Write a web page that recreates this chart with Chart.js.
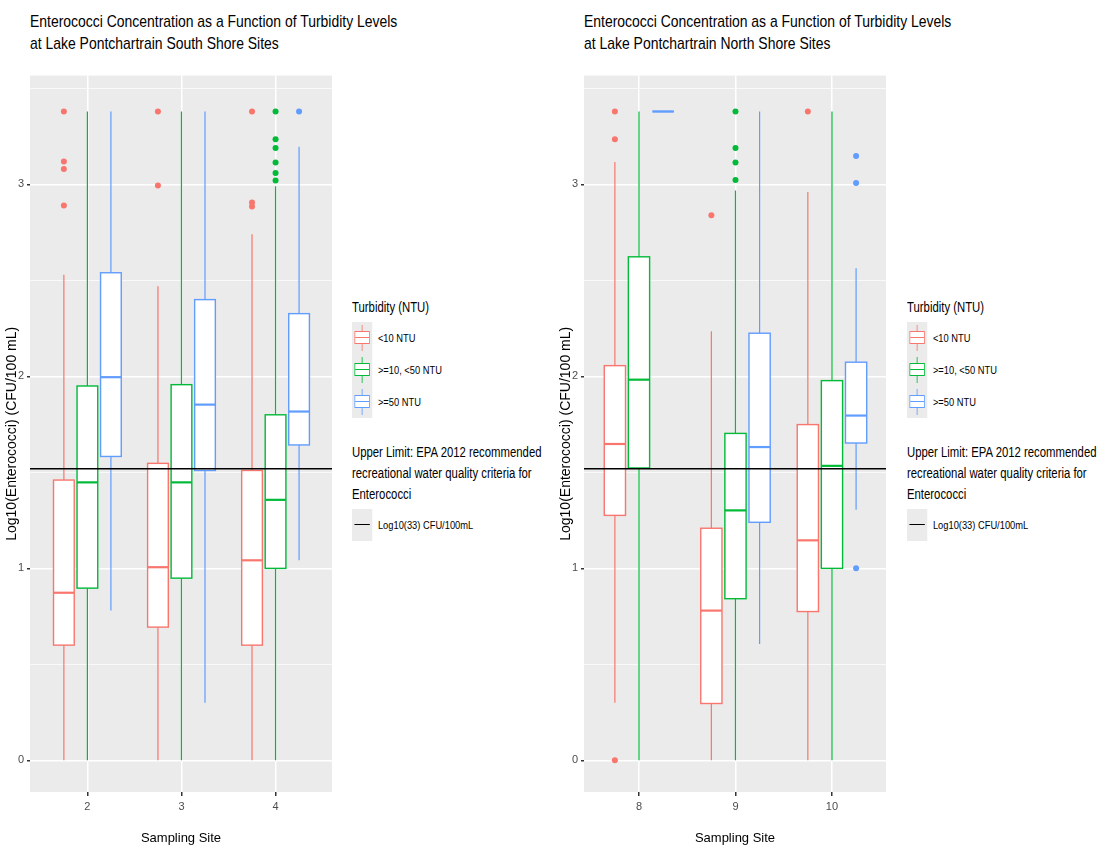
<!DOCTYPE html>
<html><head><meta charset="utf-8">
<script src="https://cdn.jsdelivr.net/npm/chart.js@4"></script>
<style>
body{margin:0;width:1108px;height:855px;background:#fff;position:relative;overflow:hidden;font-family:"Liberation Sans",Arial,sans-serif;}
.title{position:absolute;top:11px;font-size:17px;line-height:22px;color:#000;white-space:nowrap;transform:scaleX(0.82);transform-origin:0 0;}
.wrap{position:absolute;top:66px;width:336px;height:784px;}
.leg{position:absolute;font-size:13px;color:#000;white-space:nowrap;transform:scaleX(0.81);transform-origin:0 0;}
.lt{font-size:14px;line-height:21px;}
.row{display:flex;align-items:center;height:32px;font-size:11.5px;}
.key{width:25px;height:32px;background:#EBEBEB;position:relative;margin-right:7px;}
.bx{position:absolute;left:3px;top:9px;width:19px;height:13px;border:1.5px solid;background:#fff;box-sizing:border-box;}
.bx:after{content:"";position:absolute;left:0;right:0;top:4.5px;border-top:1.5px solid;border-color:inherit;}
.wh{position:absolute;left:12px;top:3px;height:26px;border-left:1px solid;}
</style></head><body>
<div class="title" style="left:30px">Enterococci Concentration as a Function of Turbidity Levels<br>at Lake Pontchartrain South Shore Sites</div>
<div class="title" style="left:584px">Enterococci Concentration as a Function of Turbidity Levels<br>at Lake Pontchartrain North Shore Sites</div>
<div class="wrap" style="left:0"><canvas id="c1"></canvas></div>
<div class="wrap" style="left:554px"><canvas id="c2"></canvas></div>
<div id="leg1" class="leg" style="left:352px;top:297px"></div>
<div id="leg2" class="leg" style="left:907px;top:297px"></div>
<script>
// ---- data ----
const seriesNames = ["<10 NTU", ">=10, <50 NTU", ">=50 NTU"];
const seriesColors = ["#F8766D", "#00BA38", "#619CFF"];
const southSites = [2, 3, 4];
const northSites = [8, 9, 10];
// [lower whisker, Q1, median, Q3, upper whisker] per site
const southLow10 = [[0,0.60,0.873,1.46,2.53],[0,0.694,1.006,1.547,2.47],[0,0.60,1.042,1.51,2.74]];
const southMid   = [[0,0.897,1.448,1.95,3.38],[0,0.949,1.448,1.957,3.38],[0,1.0,1.357,1.80,2.99]];
const southHigh50= [[0.78,1.583,1.996,2.54,3.38],[0.30,1.51,1.853,2.40,3.38],[1.042,1.643,1.817,2.327,3.197]];
const northLow10 = [[0.30,1.276,1.648,2.056,3.117],[0,0.296,0.78,1.209,2.235],[0,0.775,1.146,1.749,2.96]];
const northMid   = [[0,1.523,1.983,2.623,3.38],[0,0.842,1.302,1.703,2.969],[0,1.0,1.534,1.978,3.38]];
const northHigh50= [[3.38,3.38,3.38,3.38,3.38],[0.606,1.24,1.632,2.225,3.38],[1.305,1.653,1.796,2.074,2.563]];
// outliers per site
const southOutLow10 = [[3.38,3.12,3.08,2.89],[3.38,2.995],[3.38,2.906,2.885]];
const southOutMid   = [[],[],[3.38,3.236,3.19,3.114,3.06,3.02]];
const southOutHigh50= [[],[],[3.38]];
const northOutLow10 = [[3.38,3.236,0],[2.839],[3.38]];
const northOutMid   = [[],[3.38,3.19,3.114,3.023],[]];
const northOutHigh50= [[],[],[3.148,3.008,1.0]];
const epaLimit = 1.5185; // log10(33)
const yTicks = [0,1,2,3];

const offsets = [-0.25, 0, 0.25];
const halfW = 0.11;

function makeChart(id, sites, boxes, outs, xmin, xmax){
  const datasets = [];
  boxes.forEach((b,si)=>{
    const pts = [];
    outs[si].forEach((vals,k)=>vals.forEach(v=>pts.push({x:sites[k]+offsets[si], y:v})));
    datasets.push({type:'scatter', label:seriesNames[si], data:pts, backgroundColor:seriesColors[si], borderWidth:0, pointRadius:3, order:0});
  });
  datasets.push({type:'line', label:'EPA', data:[{x:xmin,y:epaLimit},{x:xmax,y:epaLimit}], borderColor:'#000', borderWidth:1.5, pointRadius:0, order:1});
  const boxPlugin = {
    id:'box'+id,
    beforeDraw(ch){
      const a=ch.chartArea, c=ch.ctx;
      c.save(); c.fillStyle='#EBEBEB'; c.fillRect(a.left,a.top,a.right-a.left,a.bottom-a.top); c.restore();
    },
    beforeDatasetsDraw(ch){
      const c=ch.ctx, xs=ch.scales.x, ys=ch.scales.y;
      boxes.forEach((b,si)=>{
        b.forEach((q,k)=>{
          const cx=sites[k]+offsets[si];
          const px=xs.getPixelForValue(cx), l=xs.getPixelForValue(cx-halfW), r=xs.getPixelForValue(cx+halfW);
          const [lo,q1,md,q3,hi]=q.map(v=>ys.getPixelForValue(v));
          c.save(); c.strokeStyle=seriesColors[si];
          c.lineWidth=1.2; c.beginPath(); c.moveTo(px,lo); c.lineTo(px,q1); c.moveTo(px,q3); c.lineTo(px,hi); c.stroke();
          c.fillStyle='#fff'; c.fillRect(l,q3,r-l,q1-q3);
          c.lineWidth=1.4; c.strokeRect(l,q3,r-l,q1-q3);
          c.lineWidth=2.2; c.beginPath(); c.moveTo(l,md); c.lineTo(r,md); c.stroke();
          c.restore();
        });
      });
    }
  };
  return new Chart(document.getElementById(id), {
    data:{datasets},
    plugins:[boxPlugin],
    options:{
      responsive:true, maintainAspectRatio:false, animation:false,
      layout:{padding:{top:2,right:0,left:0,bottom:0}},
      plugins:{legend:{display:false}, tooltip:{enabled:false}},
      scales:{
        x:{type:'linear', min:xmin, max:xmax, afterBuildTicks(s){s.ticks=sites.map(v=>({value:v}));},
          afterFit(s){s.height=58;},
          grid:{color:'#fff', lineWidth:1.5, tickColor:'#333', tickLength:4, drawTicks:true},
          border:{display:false},
          ticks:{color:'#4D4D4D', font:{size:11, family:'Liberation Sans'}, padding:4},
          title:{display:true, text:'Sampling Site', color:'#000', font:{size:13, family:'Liberation Sans'}, padding:{top:0}}},
        y:{type:'linear', min:-0.165, max:3.567,
          afterBuildTicks(s){s.ticks=[0,0.5,1,1.5,2,2.5,3,3.5].map(v=>({value:v}));},
          afterFit(s){s.width=30;},
          grid:{color:'#fff', lineWidth:c=>Number.isInteger(c.tick.value)?1.5:0.7,
            tickColor:c=>Number.isInteger(c.tick.value)?'#333':'rgba(0,0,0,0)', tickLength:3},
          border:{display:false},
          ticks:{color:'#4D4D4D', font:{size:11, family:'Liberation Sans'}, padding:3,
            callback:v=>yTicks.includes(v)?String(v):''},
          title:{display:true, text:'Log10(Enterococci) (CFU/100 mL)', color:'#000', font:{size:14, family:'Liberation Sans'}, padding:{bottom:0}}}
      }
    }
  });
}
makeChart('c1', southSites, [southLow10, southMid, southHigh50], [southOutLow10, southOutMid, southOutHigh50], 1.39, 4.6);
makeChart('c2', northSites, [northLow10, northMid, northHigh50], [northOutLow10, northOutMid, northOutHigh50], 7.43, 10.56);

function legendHTML(){
  let h='<div class="lt">Turbidity (NTU)</div><div style="height:4px"></div>';
  seriesNames.forEach((n,i)=>{
    const col=seriesColors[i];
    h+=`<div class="row"><div class="key"><div class="wh" style="border-color:${col}"></div><div class="bx" style="border-color:${col}"></div></div>${n.replace(/</g,'&lt;').replace(/>/g,'&gt;')}</div>`;
  });
  h+='<div style="height:24px"></div><div class="lt">Upper Limit: EPA 2012 recommended<br>recreational water quality criteria for<br>Enterococci</div><div style="height:4px"></div>';
  h+='<div class="row"><div class="key"><div style="position:absolute;left:3px;right:3px;top:15px;border-top:1.5px solid #000"></div></div>Log10(33) CFU/100mL</div>';
  return h;
}
document.getElementById('leg1').innerHTML=legendHTML();
document.getElementById('leg2').innerHTML=legendHTML();
</script>
</body></html>
